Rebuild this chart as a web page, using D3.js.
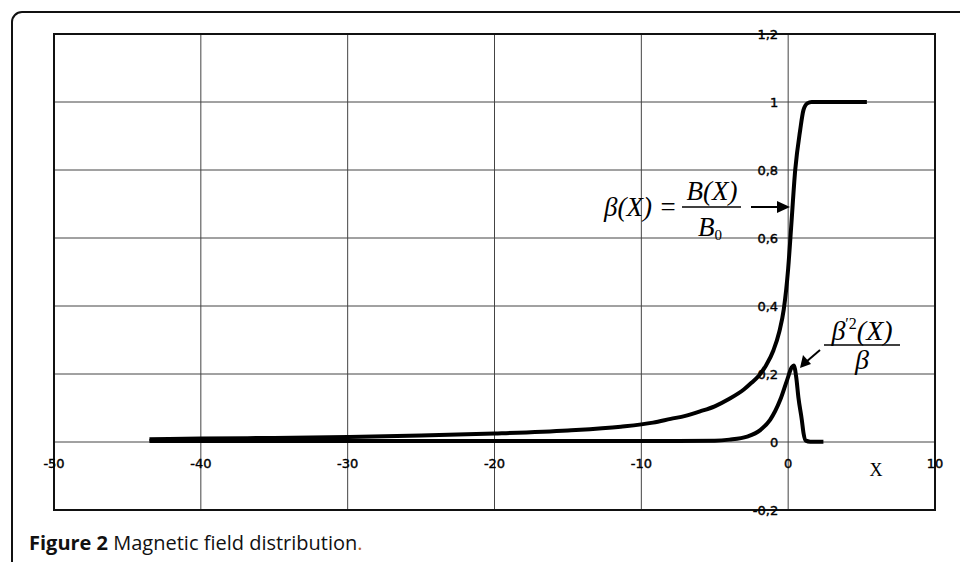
<!DOCTYPE html>
<html><head><meta charset="utf-8">
<script src="https://cdn.jsdelivr.net/npm/d3@7"></script>
<style>body{margin:0;background:#fff}svg{display:block}</style>
</head><body>
<script>
const xTicks = [-50,-40,-30,-20,-10,0,10];
const yTicks = [-0.2,0,0.2,0.4,0.6,0.8,1,1.2];
const yTickLabels = ["-0,2","0","0,2","0,4","0,6","0,8","1","1,2"];
// beta(X) = B(X)/B0
const betaX = [-43.5,-40,-35,-30,-25,-20,-15,-11.4,-9.2,-8,-7,-6,-5,-4,-3,-2.5,-2,-1.5,-1,-0.6,-0.3,0,0.2,0.48,0.82,1.04,1.3,1.6,3,5.36];
const betaY = [0.008,0.010,0.012,0.015,0.019,0.025,0.034,0.045,0.057,0.068,0.077,0.09,0.105,0.127,0.155,0.174,0.195,0.226,0.27,0.325,0.39,0.51,0.63,0.80,0.918,0.976,0.996,1.0,1.0,1.0];
// beta'^2(X)/beta
const dX = [-43.5,-20,-10,-5,-4,-2.8,-1.9,-1.23,-0.54,-0.09,0.25,0.38,0.55,0.7,0.93,1.05,1.2,1.5,2.4];
const dY = [0.003,0.003,0.003,0.004,0.007,0.016,0.035,0.065,0.124,0.18,0.22,0.225,0.19,0.13,0.065,0.025,0.004,0.001,0.001];

const W=960,H=562;
const svg=d3.select("body").append("svg").attr("width",W).attr("height",H);
const x=d3.scaleLinear().domain([-50,10]).range([54,935]);
const y=d3.scaleLinear().domain([-0.2,1.2]).range([510,34]);

// outer rounded frame
svg.append("rect").attr("x",12).attr("y",12).attr("width",1000).attr("height",600)
  .attr("rx",10).attr("fill","none").attr("stroke","#111").attr("stroke-width",2);

// grid
const g=svg.append("g");
g.selectAll(".vg").data(xTicks).join("line")
  .attr("x1",d=>x(d)).attr("x2",d=>x(d)).attr("y1",y(1.2)).attr("y2",y(-0.2))
  .attr("stroke","#444").attr("stroke-width",1);
g.selectAll(".hg").data(yTicks).join("line")
  .attr("y1",d=>y(d)).attr("y2",d=>y(d)).attr("x1",x(-50)).attr("x2",x(10))
  .attr("stroke","#444").attr("stroke-width",1);
// plot frame
svg.append("rect").attr("x",x(-50)).attr("y",y(1.2)).attr("width",x(10)-x(-50)).attr("height",y(-0.2)-y(1.2))
  .attr("fill","none").attr("stroke","#111").attr("stroke-width",2);

// tick labels
const tf="'DejaVu Sans', sans-serif";
svg.selectAll(".xl").data(xTicks).join("text")
  .attr("x",d=>x(d)).attr("y",y(0)+26).attr("text-anchor","middle")
  .attr("font-family",tf).attr("font-size",13).attr("fill","#000")
  .attr("stroke","#000").attr("stroke-width",0.4).text(d=>d);
svg.selectAll(".yl").data(yTicks).join("text")
  .attr("x",x(0)-10).attr("y",d=>y(d)+5).attr("text-anchor","end")
  .attr("font-family",tf).attr("font-size",13).attr("fill","#000")
  .attr("stroke","#000").attr("stroke-width",0.4).text((d,i)=>yTickLabels[i]);

// axis label X
svg.append("text").attr("x",876).attr("y",476).attr("text-anchor","middle")
  .attr("font-family","'Liberation Serif', serif").attr("font-size",18).text("X");

// curves
const line=d3.line().x(d=>x(d[0])).y(d=>y(d[1])).curve(d3.curveMonotoneX);
svg.append("path").attr("d",line(betaX.map((v,i)=>[v,betaY[i]])))
  .attr("fill","none").attr("stroke","#000").attr("stroke-width",4);
svg.append("path").attr("d",line(dX.map((v,i)=>[v,dY[i]])))
  .attr("fill","none").attr("stroke","#000").attr("stroke-width",4);

// annotations
const sf="'Liberation Serif', 'Times New Roman', serif";
const a=svg.append("g").attr("font-family",sf).attr("font-style","italic").attr("fill","#000");
a.append("text").attr("x",677).attr("y",216).attr("text-anchor","end").attr("font-size",27).text("β(X) =");
a.append("text").attr("x",712).attr("y",200).attr("text-anchor","middle").attr("font-size",27).text("B(X)");
a.append("line").attr("x1",682).attr("x2",741).attr("y1",207).attr("y2",207).attr("stroke","#000").attr("stroke-width",1.5);
const b0=a.append("text").attr("x",710).attr("y",236).attr("text-anchor","middle").attr("font-size",27);
b0.append("tspan").text("B");
b0.append("tspan").attr("font-size",15).attr("font-style","normal").attr("dy",4).text("0");
// arrow 1
svg.append("line").attr("x1",751).attr("x2",780).attr("y1",207).attr("y2",207).attr("stroke","#000").attr("stroke-width",2);
svg.append("path").attr("d","M790,207 L777,201 L777,213 Z").attr("fill","#000");

const t2=a.append("text").attr("x",862).attr("y",340).attr("text-anchor","middle").attr("font-size",28);
t2.append("tspan").text("β");
t2.append("tspan").attr("font-size",16).attr("font-style","normal").attr("dy",-11).text("′2");
t2.append("tspan").attr("dy",11).text("(X)");
a.append("line").attr("x1",824).attr("x2",900).attr("y1",345).attr("y2",345).attr("stroke","#000").attr("stroke-width",1.5);
a.append("text").attr("x",862).attr("y",369).attr("text-anchor","middle").attr("font-size",28).text("β");
// arrow 2
svg.append("line").attr("x1",820).attr("y1",350).attr("x2",806).attr("y2",362).attr("stroke","#000").attr("stroke-width",2);
svg.append("path").attr("d","M800,368 L803,355 L811,364 Z").attr("fill","#000");

// caption
const cap=svg.append("text").attr("x",29).attr("y",550).attr("font-family","'Open Sans', sans-serif").attr("font-size",20).attr("fill","#111");
cap.append("tspan").attr("font-weight","bold").text("Figure 2 ");
cap.append("tspan").text("Magnetic field distribution");
cap.append("tspan").attr("fill","#c0661a").text(".");
</script>
</body></html>
